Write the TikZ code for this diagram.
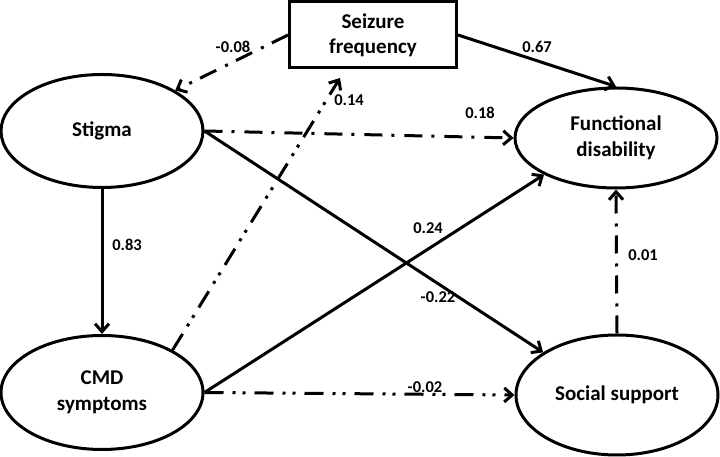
\documentclass[tikz,border=0pt]{standalone}
\usepackage{fontspec}
\setmainfont{Carlito}
\usetikzlibrary{shapes.geometric, arrows.meta, positioning}

\begin{document}
\begin{tikzpicture}[
  x=1pt, y=1pt,
  node distance=145pt,
  latent/.style={ellipse, draw=black, line width=3pt, align=center,
    minimum width=202pt, inner sep=2pt, font=\fontsize{21}{26}\selectfont\bfseries},
  observed/.style={rectangle, draw=black, line width=3pt, align=center,
    minimum width=167pt, minimum height=66pt, font=\fontsize{21}{25}\selectfont\bfseries},
  coef/.style={font=\fontsize{16.5}{19}\selectfont\bfseries, inner sep=1pt},
  effect/.style={-{Straight Barb[length=8pt,width=14pt]}, line width=3pt},
  dashdot/.style={dash pattern=on 18pt off 9pt on 3pt off 10pt},
  dashdotdot/.style={dash pattern=on 19pt off 9pt on 3pt off 7pt on 3pt off 9pt}
]
\useasboundingbox (0,0) rectangle (720,457);
\fill[white] (0,0) rectangle (720,457);

% measured and latent variables
\node[observed] (sf) at (373,422) {Seizure\\frequency};
\node[latent, minimum height=113pt] (st) at (102,326) {Stigma};
\node[latent, minimum height=114pt, below=of st] (cmd) {CMD\\symptoms};
\node[latent, minimum height=100pt] (fd) at (616,319) {Functional\\disability};
\node[latent, minimum height=120pt] (ss) at (617,62) {Social support};
\coordinate (sfin) at (340,379);

% paths
\draw[effect, dashdot] (sf.west) -- (st.29);
\draw[effect] (sf.east) -- (fd.north);
\draw[effect, dashdot] (st.east) -- (fd.west);
\draw[effect] (st.east) -- (ss.150);
\draw[effect] (st.south) -- (cmd.north);
\draw[effect, dashdotdot] (cmd.31) -- (sfin);
\draw[effect] (cmd.east) -- (fd.207);
\draw[effect, dashdotdot] (cmd.east) -- (ss.west);
\draw[effect, dashdot] (ss.north) -- (fd.south);

% coefficients
\node[coef] (c1) at (233,410) {-0.08};
\node[coef] (c2) at (537,410) {0.67};
\node[coef] (c3) at (349,357) {0.14};
\node[coef] (c4) at (480,344) {0.18};
\node[coef] (c5) at (127,212) {0.83};
\node[coef] (c6) at (428,229) {0.24};
\node[coef] (c7) at (438,160) {-0.22};
\node[coef] (c8) at (425,70) {-0.02};
\node[coef] (c9) at (643,202) {0.01};
\end{tikzpicture}
\end{document}
